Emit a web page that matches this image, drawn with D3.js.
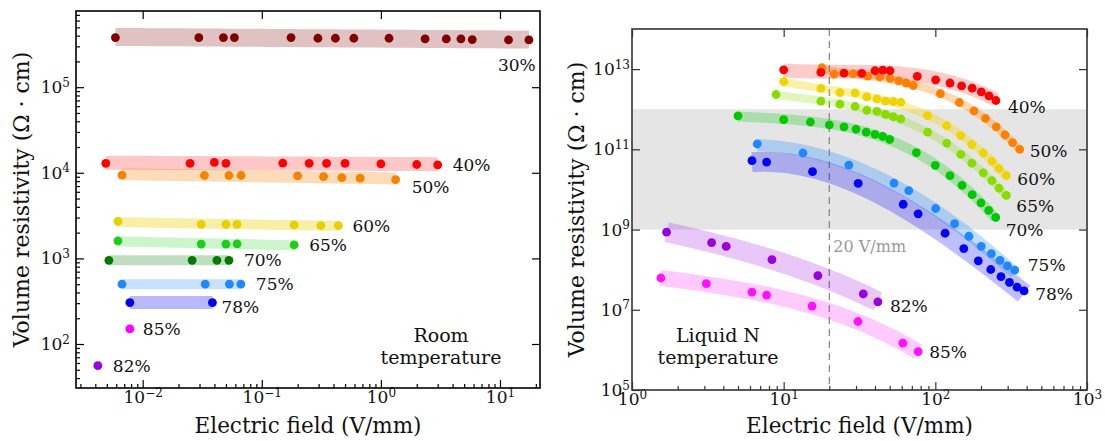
<!DOCTYPE html>
<html>
<head>
<meta charset="utf-8">
<script src="https://cdn.jsdelivr.net/npm/d3@7"></script>
<style>
  body { margin: 0; background: #fff; }
  svg { display: block; }
  text { font-family: "DejaVu Serif", "Liberation Serif", serif; fill: #111; }
</style>
</head>
<body>
<svg id="chart" width="1105" height="441"></svg>
<script>
// ---------- Room temperature: electric field (V/mm) and volume resistivity (Ω·cm) ----------
const rtE30 = [0.0059, 0.0296, 0.0476, 0.0589, 0.176, 0.296, 0.415, 0.593, 1.17, 2.35, 3.54, 4.70, 5.85, 11.8, 17.5];
const rtR30 = [3.8e5, 3.8e5, 3.8e5, 3.8e5, 3.8e5, 3.73e5, 3.73e5, 3.73e5, 3.73e5, 3.66e5, 3.66e5, 3.66e5, 3.6e5, 3.57e5, 3.57e5];
const rtE40 = [0.0049, 0.025, 0.04, 0.05, 0.15, 0.25, 0.35, 0.5, 1.0, 2.0, 3.0];
const rtR40 = [1.29e4, 1.29e4, 1.32e4, 1.29e4, 1.3e4, 1.29e4, 1.29e4, 1.29e4, 1.27e4, 1.25e4, 1.24e4];
const rtE50 = [0.0067, 0.033, 0.053, 0.067, 0.2, 0.33, 0.47, 0.67, 1.33];
const rtR50 = [9.4e3, 9.3e3, 9.3e3, 9.3e3, 9.2e3, 9.0e3, 8.8e3, 8.65e3, 8.3e3];
const rtE60 = [0.0062, 0.031, 0.05, 0.062, 0.187, 0.313, 0.44];
const rtR60 = [2.7e3, 2.5e3, 2.5e3, 2.5e3, 2.46e3, 2.42e3, 2.42e3];
const rtE65 = [0.0062, 0.031, 0.05, 0.062, 0.187];
const rtR65 = [1.6e3, 1.47e3, 1.47e3, 1.48e3, 1.44e3];
const rtE70 = [0.0052, 0.026, 0.042, 0.053];
const rtR70 = [950, 950, 950, 950];
const rtE75 = [0.0067, 0.0335, 0.0535, 0.0667];
const rtR75 = [500, 500, 500, 500];
const rtE78 = [0.0078, 0.0385];
const rtR78 = [305, 305];
const rtE85 = [0.0078];
const rtR85 = [150];
const rtE82 = [0.0042];
const rtR82 = [56];

// ---------- Liquid nitrogen temperature ----------
const lnE40 = [10.0, 17.6, 25.0, 32.7, 40.0, 45.0, 50.2, 76.0, 100.5, 125, 149, 175, 201, 226, 251];
const lnR40 = [9.6e12, 8.3e12, 7.9e12, 7.8e12, 9.1e12, 9.4e12, 9.1e12, 6.6e12, 5.4e12, 4.5e12, 3.8e12, 3.35e12, 2.7e12, 2.15e12, 1.65e12];
const lnE50 = [17.9, 21.5, 28.8, 35.8, 43.0, 50.4, 57.3, 64.2, 71.5, 108, 144, 180, 214, 252, 288, 323, 360];
const lnR50 = [1.08e13, 7.5e12, 7.7e12, 6.7e12, 6.4e12, 5.9e12, 5.1e12, 4.5e12, 3.9e12, 2.44e12, 1.47e12, 9.1e11, 5.9e11, 3.65e11, 2.28e11, 1.47e11, 1.0e11];
const lnE60 = [10.0, 17.6, 23.5, 29.6, 35.3, 41.2, 46.9, 52.8, 59.2, 89, 119, 147, 174, 207, 236, 263, 294];
const lnR60 = [4.9e12, 3.3e12, 2.6e12, 2.56e12, 2.03e12, 1.8e12, 1.6e12, 1.56e12, 1.51e12, 6.96e11, 3.87e11, 2.2e11, 1.3e11, 8.1e10, 5.1e10, 3.3e10, 2.2e10];
const lnE65 = [8.9, 17.6, 23.5, 29.6, 35.3, 41.2, 46.9, 52.8, 59.2, 89, 119, 147, 174, 207, 236, 263, 294];
const lnR65 = [2.33e12, 1.58e12, 1.33e12, 1.17e12, 9.4e11, 8.8e11, 7.4e11, 6.5e11, 5.75e11, 2.7e11, 1.43e11, 7.5e10, 4.5e10, 2.6e10, 1.66e10, 1.08e10, 7.1e9];
const lnE70 = [5, 10, 15, 20, 25, 30, 35, 40, 45, 50, 75, 100, 125, 150, 175, 200, 225, 250];
const lnR70 = [6.8e11, 5.5e11, 4.8e11, 4.05e11, 3.65e11, 3.2e11, 2.7e11, 2.37e11, 2.09e11, 1.76e11, 8.3e10, 4.0e10, 2.2e10, 1.27e10, 7.4e9, 4.65e9, 3.0e9, 2.0e9];
const lnE75 = [6.7, 13.4, 26.9, 53.4, 66.8, 100.5, 134, 166.5, 200.7, 234, 267, 299, 334];
const lnR75 = [1.36e11, 8.1e10, 4.05e10, 1.44e10, 9.3e9, 3.35e9, 1.4e9, 6.8e8, 3.8e8, 2.5e8, 1.7e8, 1.24e8, 9.7e7];
const lnE78 = [6.18, 7.72, 15.5, 31.0, 61.4, 77.0, 116, 154, 192, 232, 271, 308, 346, 385];
const lnR78 = [5.2e10, 4.8e10, 2.77e10, 1.41e10, 4.27e9, 2.47e9, 8.1e8, 3.35e8, 1.66e8, 1.01e8, 6.7e7, 4.8e7, 3.65e7, 2.95e7];
const lnE82 = [1.69, 3.35, 4.18, 8.37, 16.8, 33.5, 41.8];
const lnR82 = [8.6e8, 4.7e8, 3.8e8, 1.78e8, 7.1e7, 2.5e7, 1.58e7];
const lnE85 = [1.55, 3.09, 6.18, 7.72, 15.4, 30.9, 61.1, 77.1];
const lnR85 = [6.2e7, 4.47e7, 2.77e7, 2.33e7, 1.24e7, 5.1e6, 1.47e6, 9.1e5];

// Axis ticks (powers of ten) and shaded resistivity range
const rtXTicks = [1e-2, 1e-1, 1e0, 1e1];
const rtYTicks = [1e2, 1e3, 1e4, 1e5];
const lnXTicks = [1e0, 1e1, 1e2, 1e3];
const lnYTicks = [1e5, 1e7, 1e9, 1e11, 1e13];
const lnShade = [1e9, 1e12];
const lnMarkerField = 20;

const rtSeries = [
  ["30%", rtE30, rtR30], ["40%", rtE40, rtR40], ["50%", rtE50, rtR50],
  ["60%", rtE60, rtR60], ["65%", rtE65, rtR65], ["70%", rtE70, rtR70],
  ["75%", rtE75, rtR75], ["78%", rtE78, rtR78], ["85%", rtE85, rtR85],
  ["82%", rtE82, rtR82]
];
const lnSeries = [
  ["85%", lnE85, lnR85], ["82%", lnE82, lnR82], ["78%", lnE78, lnR78],
  ["75%", lnE75, lnR75], ["70%", lnE70, lnR70], ["65%", lnE65, lnR65],
  ["60%", lnE60, lnR60], ["50%", lnE50, lnR50], ["40%", lnE40, lnR40]
];

// ---------- styles: colour, band width (px), label offset from last point (px) ----------
const rtStyle = {
  "30%": { c: "#800000", w: 18, op: 0.24, dx: -31, dy: 25 },
  "40%": { c: "#ff0000", w: 14, op: 0.22, dx: 15, dy: 0 },
  "50%": { c: "#f58200", w: 12, op: 0.28, dx: 16, dy: 7 },
  "60%": { c: "#e8d000", w: 10, op: 0.35, dx: 14, dy: 0 },
  "65%": { c: "#18d018", w: 10, op: 0.22, dx: 15, dy: 0 },
  "70%": { c: "#007a00", w: 10, op: 0.25, dx: 15, dy: 0 },
  "75%": { c: "#1e88ff", w: 10, op: 0.25, dx: 15, dy: 0 },
  "78%": { c: "#0000ee", w: 13, op: 0.28, dx: 9, dy: 4 },
  "85%": { c: "#ff00ff", w: 0, op: 0, dx: 13, dy: 0 },
  "82%": { c: "#9900dd", w: 0, op: 0, dx: 15, dy: 0 }
};
const lnStyle = {
  "40%": { c: "#ff0000", w: 14, op: 0.2, dx: 12, dy: 6 },
  "50%": { c: "#ff8000", w: 8, op: 0.3, dx: 10, dy: 2 },
  "60%": { c: "#f0d400", w: 8, op: 0.35, dx: 11, dy: 3 },
  "65%": { c: "#88dd00", w: 8, op: 0.25, dx: 10, dy: 10 },
  "70%": { c: "#00c800", w: 10, op: 0.25, dx: 10, dy: 12 },
  "75%": { c: "#1e88ff", w: 12, op: 0.28, dx: 13, dy: -5 },
  "78%": { c: "#0000ff", w: 20, op: 0.25, dx: 11, dy: 3 },
  "82%": { c: "#9900dd", w: 20, op: 0.22, dx: 12, dy: 4 },
  "85%": { c: "#ff11ff", w: 16, op: 0.22, dx: 11, dy: 0 }
};

const svg = d3.select("#chart");

// least-squares polynomial in log–log space, used for the shaded trend band
function polyFit(ts, vs, deg) {
  const n = deg + 1;
  const A = Array.from({ length: n }, () => new Array(n + 1).fill(0));
  ts.forEach((t, k) => {
    for (let i = 0; i < n; i++) {
      for (let j = 0; j < n; j++) A[i][j] += Math.pow(t, i + j);
      A[i][n] += vs[k] * Math.pow(t, i);
    }
  });
  for (let i = 0; i < n; i++) {
    let p = i;
    for (let r = i + 1; r < n; r++) if (Math.abs(A[r][i]) > Math.abs(A[p][i])) p = r;
    [A[i], A[p]] = [A[p], A[i]];
    for (let r = 0; r < n; r++) {
      if (r === i) continue;
      const f = A[r][i] / A[i][i];
      for (let c = i; c <= n; c++) A[r][c] -= f * A[i][c];
    }
  }
  const coef = A.map((row, i) => row[n] / row[i]);
  return t => coef.reduce((s, a, i) => s + a * Math.pow(t, i), 0);
}

function trend(E, R, deg) {
  if (E.length < 2) return null;
  const ts = E.map(Math.log10), vs = R.map(Math.log10);
  const m = d3.mean(ts);
  const f = polyFit(ts.map(t => t - m), vs, Math.min(deg, E.length - 1));
  const [t0, t1] = d3.extent(ts);
  return d3.range(0, 61).map(i => {
    const t = t0 + (t1 - t0) * i / 60;
    return [Math.pow(10, t), Math.pow(10, f(t - m))];
  });
}

function minorTicks(domain) {
  const out = [];
  const lo = Math.floor(Math.log10(domain[0])), hi = Math.ceil(Math.log10(domain[1]));
  for (let d = lo; d <= hi; d++)
    for (let k = 2; k <= 9; k++) {
      const v = k * Math.pow(10, d);
      if (v >= domain[0] && v <= domain[1]) out.push(v);
    }
  return out;
}

function powerLabels(g) {
  g.selectAll(".tick text").each(function (d) {
    const e = Math.round(Math.log10(d));
    const t = d3.select(this).text(null);
    t.append("tspan").text("10");
    t.append("tspan").attr("dy", "-0.52em").attr("font-size", "12px")
      .text(e < 0 ? "\u2212" + (-e) : String(e));
  });
}

function panel(p) {
  const { x, y } = p;
  const [x0, x1] = x.range(), [y1, y0] = y.range();
  const g = svg.append("g");
  const clipId = "clip" + p.id;
  g.append("clipPath").attr("id", clipId).append("rect")
    .attr("x", x0).attr("y", y0).attr("width", x1 - x0).attr("height", y1 - y0);
  const plot = g.append("g").attr("clip-path", `url(#${clipId})`);

  if (p.shade) {
    plot.append("rect").attr("x", x0).attr("width", x1 - x0)
      .attr("y", y(p.shade[1])).attr("height", y(p.shade[0]) - y(p.shade[1]))
      .attr("fill", "#e5e5e5");
  }
  if (p.vline) {
    plot.append("line").attr("x1", x(p.vline)).attr("x2", x(p.vline))
      .attr("y1", y0).attr("y2", y1)
      .attr("stroke", "#8a8a8a").attr("stroke-width", 1.3).attr("stroke-dasharray", "7,5");
  }

  const line = d3.line().x(d => x(d[0])).y(d => y(d[1])).curve(d3.curveLinear);
  p.series.forEach(([lab, E, R]) => {
    const s = p.style[lab];
    const band = trend(E, R, p.deg);
    if (band && s.w > 0) {
      plot.append("path").attr("d", line(band)).attr("fill", "none")
        .attr("stroke", s.c).attr("stroke-opacity", s.op)
        .attr("stroke-width", s.w).attr("stroke-linecap", "butt");
    }
  });
  p.series.forEach(([lab, E, R]) => {
    const s = p.style[lab];
    plot.append("g").selectAll("circle").data(E.map((e, i) => [e, R[i]])).join("circle")
      .attr("cx", d => x(d[0])).attr("cy", d => y(d[1])).attr("r", 4.4)
      .attr("fill", s.c);
    const last = E.length - 1;
    g.append("text").attr("x", x(E[last]) + s.dx).attr("y", y(R[last]) + s.dy)
      .attr("dy", "0.36em").attr("font-size", "17px").text(lab);
  });

  // axes: inward ticks on all four sides, labels on bottom and left
  const strip = sel => sel.select(".domain").remove();
  const bottom = g.append("g").attr("transform", `translate(0,${y1})`)
    .call(d3.axisBottom(x).tickValues(p.xTicks).tickSizeInner(-8).tickSizeOuter(0).tickPadding(3))
    .call(strip);
  const left = g.append("g").attr("transform", `translate(${x0},0)`)
    .call(d3.axisLeft(y).tickValues(p.yTicks).tickSizeInner(-8).tickSizeOuter(0).tickPadding(p.yPad))
    .call(strip);
  g.append("g").attr("transform", `translate(0,${y0})`)
    .call(d3.axisTop(x).tickValues(p.xTicks).tickSizeInner(-8).tickSizeOuter(0).tickFormat(""))
    .call(strip);
  g.append("g").attr("transform", `translate(${x1},0)`)
    .call(d3.axisRight(y).tickValues(p.yTicks).tickSizeInner(-8).tickSizeOuter(0).tickFormat(""))
    .call(strip);
  g.append("g").attr("transform", `translate(0,${y1})`)
    .call(d3.axisBottom(x).tickValues(minorTicks(x.domain())).tickSizeInner(-4).tickSizeOuter(0).tickFormat(""))
    .call(strip);
  if (p.yMinor) {
    g.append("g").attr("transform", `translate(${x0},0)`)
      .call(d3.axisLeft(y).tickValues(minorTicks(y.domain())).tickSizeInner(-4).tickSizeOuter(0).tickFormat(""))
      .call(strip);
  }
  [bottom, left].forEach(a => {
    a.attr("font-family", null).attr("font-size", null);
    a.selectAll(".tick text").attr("font-size", "17px").attr("fill", "#111");
    powerLabels(a);
  });
  g.selectAll(".tick line").attr("stroke", p.frame).attr("stroke-width", 1.2);

  g.append("rect").attr("x", x0).attr("y", y0).attr("width", x1 - x0).attr("height", y1 - y0)
    .attr("fill", "none").attr("stroke", p.frame).attr("stroke-width", 1.6);

  g.append("text").attr("x", (x0 + x1) / 2).attr("y", 433).attr("text-anchor", "middle")
    .attr("font-size", "21.5px").text("Electric field (V/mm)");
  g.append("text").attr("transform", `translate(${p.yTitleX},${(y0 + y1) / 2}) rotate(-90)`)
    .attr("text-anchor", "middle").attr("font-size", "22px")
    .text("Volume resistivity (\u03A9 \u00B7 cm)");

  const note = g.append("text").attr("text-anchor", "middle").attr("font-size", "19px");
  p.note.forEach((t, i) => note.append("tspan").attr("x", p.noteX).attr("y", p.noteY + i * 22).text(t));
  return g;
}

panel({
  id: "rt",
  x: d3.scaleLog().domain([Math.pow(10, -2.56), Math.pow(10, 1.336)]).range([76, 540]),
  y: d3.scaleLog().domain([Math.pow(10, 1.486), Math.pow(10, 5.89)]).range([388, 11]),
  series: rtSeries, style: rtStyle, deg: 1,
  xTicks: rtXTicks, yTicks: rtYTicks, yPad: 6, yMinor: true,
  frame: "#000", yTitleX: 29,
  note: ["Room", "temperature"], noteX: 441, noteY: 342
});

const lnX = d3.scaleLog().domain([1, 1000]).range([632, 1087]);
const ln = panel({
  id: "ln",
  x: lnX,
  y: d3.scaleLog().domain([1e5, 1e14]).range([390, 29]),
  series: lnSeries, style: lnStyle, deg: 3,
  xTicks: lnXTicks, yTicks: lnYTicks, yPad: 2, yMinor: false,
  frame: "#333", yTitleX: 584,
  shade: lnShade, vline: lnMarkerField,
  note: ["Liquid N", "temperature"], noteX: 718, noteY: 342
});

// annotation for the dashed reference field
ln.append("text").attr("x", lnX(lnMarkerField) + 4)
  .attr("y", 251.5).attr("font-size", "16px").style("fill", "#999").text(lnMarkerField + " V/mm");
</script>
</body>
</html>
